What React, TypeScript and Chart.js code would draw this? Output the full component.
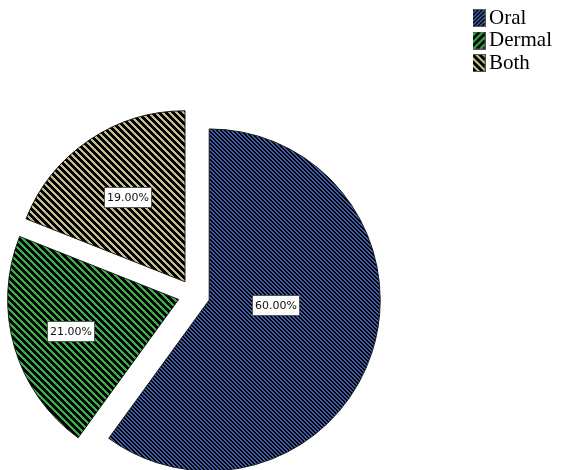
import React, { useEffect, useRef } from 'react';
import { Chart, registerables } from 'chart.js';

Chart.register(...registerables);

// ---- data ----
const categories = ['Oral', 'Dermal', 'Both'];
const shares = [60, 21, 19];

// ---- styles ----
const stripeColors = ['#3f5fae', '#38b048', '#c6bd8c'];
const stripePeriods = [4, 7, 7];
const stripeWidths = [2, 3, 3];
const legendDirs = ['up', 'up', 'down'];
const labelFractions = [0.39, 0.66, 0.6];
const labelAngleShiftDeg = [-14, 0, 0];

const PIE_RADIUS = 171;
const PIE_CENTRE_X = 194;
const PIE_CENTRE_Y = 295;
const EXPLODE = 16;

function stripeTile(color: string, period: number, width: number, dir: string) {
  const c = document.createElement('canvas');
  c.width = period;
  c.height = period;
  const ctx = c.getContext('2d')!;
  ctx.fillStyle = '#000';
  ctx.fillRect(0, 0, period, period);
  ctx.fillStyle = color;
  for (let y = 0; y < period; y++) {
    for (let x = 0; x < period; x++) {
      const k = dir === 'down' ? (x - y + period * 4) % period : (x + y) % period;
      if (k < width) ctx.fillRect(x, y, 1, 1);
    }
  }
  return c;
}

function makePattern(color: string, period: number, width: number, dir: string) {
  const tile = stripeTile(color, period, width, dir);
  return tile.getContext('2d')!.createPattern(tile, 'repeat') as CanvasPattern;
}

function legendSwatch(color: string, period: number, width: number, dir: string) {
  const size = 18;
  const c = document.createElement('canvas');
  c.width = size;
  c.height = size;
  const ctx = c.getContext('2d')!;
  ctx.fillStyle = makePattern(color, period, width, dir);
  ctx.fillRect(0, 0, size, size);
  ctx.strokeStyle = '#555';
  ctx.lineWidth = 1;
  ctx.strokeRect(0.5, 0.5, size - 1, size - 1);
  return c;
}

const placePie = {
  id: 'placePie',
  afterLayout(chart: any) {
    const a = chart.chartArea;
    a.left = PIE_CENTRE_X - PIE_RADIUS;
    a.right = PIE_CENTRE_X + PIE_RADIUS;
    a.top = PIE_CENTRE_Y - PIE_RADIUS;
    a.bottom = PIE_CENTRE_Y + PIE_RADIUS;
    a.width = 2 * PIE_RADIUS;
    a.height = 2 * PIE_RADIUS;
  },
};

const explode = {
  id: 'explode',
  afterDatasetsUpdate(chart: any) {
    const meta = chart.getDatasetMeta(0);
    meta.data.forEach((el: any) => {
      const mid = (el.startAngle + el.endAngle) / 2;
      el.x += Math.cos(mid) * EXPLODE;
      el.y += Math.sin(mid) * EXPLODE;
    });
  },
};

const sliceLabels = {
  id: 'sliceLabels',
  afterDatasetsDraw(chart: any) {
    const ctx = chart.ctx;
    const meta = chart.getDatasetMeta(0);
    ctx.save();
    ctx.font = '11px "DejaVu Sans", sans-serif';
    ctx.textAlign = 'center';
    ctx.textBaseline = 'middle';
    meta.data.forEach((el: any, i: number) => {
      const mid = (el.startAngle + el.endAngle) / 2 + (labelAngleShiftDeg[i] * Math.PI) / 180;
      const d = labelFractions[i] * el.outerRadius;
      const x = el.x + Math.cos(mid) * d;
      const y = el.y + Math.sin(mid) * d;
      const text = `${shares[i].toFixed(2)}%`;
      const w = Math.ceil(ctx.measureText(text).width) + 5;
      const h = 20;
      const bx = Math.round(x - w / 2) + 0.5;
      const by = Math.round(y - h / 2) + 0.5;
      ctx.fillStyle = '#fff';
      ctx.fillRect(bx, by, w, h);
      ctx.strokeStyle = '#555';
      ctx.lineWidth = 1;
      ctx.strokeRect(bx, by, w, h);
      ctx.fillStyle = '#111';
      ctx.fillText(text, bx + w / 2, by + h / 2 + 0.5);
    });
    ctx.restore();
  },
};

export default function App() {
  const ref = useRef<HTMLCanvasElement>(null);

  useEffect(() => {
    const pieFill = categories.map((_, i) =>
      makePattern(stripeColors[i], stripePeriods[i], stripeWidths[i], 'down')
    );
    const swatches = categories.map((_, i) =>
      legendSwatch(stripeColors[i], stripePeriods[i], stripeWidths[i], legendDirs[i])
    );
    const chart = new Chart(ref.current!, {
      type: 'pie',
      data: {
        labels: categories,
        datasets: [
          {
            data: shares,
            backgroundColor: pieFill,
            borderColor: '#1a1a1a',
            borderWidth: 1,
            radius: PIE_RADIUS,
          } as any,
        ],
      },
      options: {
        animation: false,
        responsive: false,
        layout: { padding: { top: 6, right: 12 } },
        plugins: {
          legend: {
            position: 'right',
            align: 'start',
            labels: {
              usePointStyle: true,
              pointStyleWidth: 4,
              boxHeight: 18,
              padding: 1.5,
              color: '#000',
              font: { family: '"Liberation Serif", "Times New Roman", serif', size: 21 },
              generateLabels: () =>
                categories.map((c, i) => ({
                  text: c,
                  fillStyle: '#000',
                  strokeStyle: '#555',
                  lineWidth: 0,
                  pointStyle: swatches[i],
                  hidden: false,
                  index: i,
                  datasetIndex: 0,
                  fontColor: '#000',
                })),
            },
          },
          tooltip: { enabled: false },
        },
      } as any,
      plugins: [placePie, explode, sliceLabels],
    });
    return () => chart.destroy();
  }, []);

  return (
    <div
      style={{
        position: 'fixed',
        left: 0,
        top: 0,
        width: 574,
        height: 470,
        background: '#fff',
        overflow: 'hidden',
      }}
    >
      <canvas ref={ref} width={574} height={470} style={{ display: 'block' }} />
    </div>
  );
}
